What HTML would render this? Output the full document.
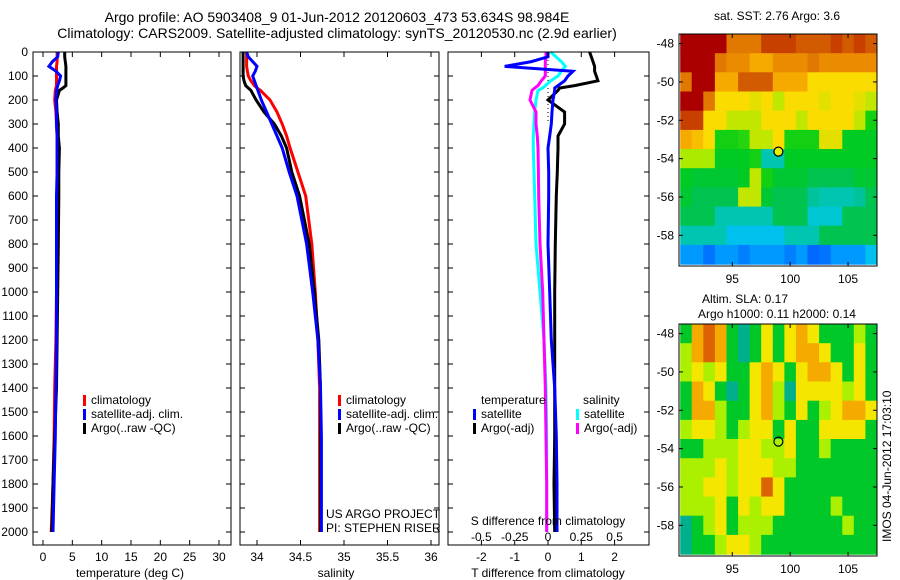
<!DOCTYPE html>
<html><head><meta charset="utf-8">
<style>
html,body{margin:0;padding:0;background:#fff;}
svg{display:block;font-family:"Liberation Sans",sans-serif;}
text{font-size:12px;fill:#000;}
text.ttl{font-size:14px;}
</style></head>
<body>
<svg id="fig" width="900" height="580" viewBox="0 0 900 580" xmlns="http://www.w3.org/2000/svg">
<text class="ttl" x="337" y="22" text-anchor="middle">Argo profile: AO 5903408_9 01-Jun-2012 20120603_473 53.634S 98.984E</text>
<text class="ttl" x="337" y="38" text-anchor="middle">Climatology: CARS2009. Satellite-adjusted climatology: synTS_20120530.nc (2.9d earlier)</text>
<g id="p1"></g>
<g id="p2"></g>
<g id="p3"></g>
<g id="m1"></g>
<g id="m2"></g>
<text transform="translate(891,542) rotate(-90)">IMOS 04-Jun-2012 17:03:10</text>
</svg>
<script>
// ---------- data ----------
const depths = [0,20,40,60,80,100,120,140,150,160,200,250,300,350,400,500,600,800,1000,1200,1400,1600,1800,2000];
const tClim = [2.4,2.4,2.4,2.3,2.3,2.3,2.3,2.3,2.2,2.1,2.0,2.2,2.3,2.4,2.4,2.4,2.4,2.4,2.3,2.2,2.0,1.9,1.7,1.4];
const tSat  = [2.6,2.5,1.6,1.0,2.2,3.0,2.8,2.5,2.4,2.3,2.2,2.3,2.3,2.4,2.4,2.4,2.3,2.3,2.3,2.3,2.2,2.1,1.9,1.7];
const tArgo = [3.7,3.7,3.8,3.9,3.9,3.9,3.9,3.9,3.4,2.8,2.3,2.4,2.6,2.6,2.8,2.7,2.7,2.6,2.5,2.4,2.3,2.0,1.7,1.5];
const sClim = [33.88,33.88,33.88,33.88,33.89,33.9,33.93,33.97,34.0,34.04,34.15,34.23,34.29,34.34,34.38,34.47,34.56,34.63,34.67,34.70,34.72,34.72,34.72,34.72];
const sSat  = [33.88,33.9,33.95,34.0,33.98,33.95,33.97,33.99,34.0,34.01,34.05,34.11,34.17,34.23,34.29,34.37,34.46,34.57,34.64,34.70,34.73,34.74,34.74,34.74];
const sArgo = [33.84,33.84,33.84,33.84,33.84,33.84,33.85,33.87,33.9,33.93,33.99,34.08,34.2,34.28,34.34,34.4,34.49,34.6,34.66,34.71,34.73,34.73,34.73,34.73];
const dTSat = [0,0,-0.5,-1.3,0.75,0.6,0.5,0.3,0.2,0.2,0.15,0.12,0.1,0.05,0.0,0.02,0.02,0.0,0.05,0.1,0.2,0.25,0.27,0.27];
const dTArgo= [1.25,1.3,1.35,1.4,1.4,1.45,1.5,0.8,0.35,0.3,0.0,0.5,0.5,0.3,0.3,0.28,0.25,0.22,0.2,0.2,0.2,0.2,0.18,0.2];
const dSSat = [0.02,0.06,0.1,0.13,0.1,0.075,0.02,-0.02,-0.04,-0.075,-0.09,-0.1,-0.105,-0.11,-0.11,-0.105,-0.1,-0.09,-0.06,-0.03,-0.015,-0.01,-0.01,-0.01];
const dSArgo= [-0.015,-0.015,-0.02,-0.02,-0.02,-0.02,-0.05,-0.075,-0.1,-0.12,-0.135,-0.09,-0.09,-0.08,-0.075,-0.072,-0.07,-0.06,-0.04,-0.03,-0.02,-0.015,-0.01,-0.01];
const depthTicks = [0,100,200,300,400,500,600,700,800,900,1000,1100,1200,1300,1400,1500,1600,1700,1800,1900,2000];
const tTicks = [0,5,10,15,20,25,30];
const sTicks = [34,34.5,35,35.5,36];
const dTTicks = [-2,-1,0,1,2];
const dSTicks = [-0.5,-0.25,0,0.25,0.5];
const lonTicks = [95,100,105];
const latTicks = [-48,-50,-52,-54,-56,-58];
const mapLons = [91,92,93,94,95,96,97,98,99,100,101,102,103,104,105,106,107];
const mapLats = [-48,-49,-50,-51,-52,-53,-54,-55,-56,-57,-58,-59];
const sstGrid = [
[7,7,7,7,6,6,6,6.5,6.5,6.5,6.3,6.3,6.3,6.5,6.3,6.5,6.3],
[7,7,7,6,5.8,5.8,5.5,5.5,5.8,5.8,5.8,6,5.8,5.8,5.8,5.8,5.8],
[6,7,7,5.5,5.5,6.3,6.3,6.3,5.5,5.5,5.5,5,5,5,5,5,5],
[7,7,6,5,5,5,4.8,5,4.5,5,5,5,4.8,5,5,4.8,4.5],
[6.5,6.5,5,5,4.5,4.5,4.5,5,5,5,4.5,5,5,5,5,4.5,3.5],
[5.5,5.3,5,3.5,3.5,3.6,4.5,4.5,5,3.5,3.5,3.5,4.8,4.8,3.3,3.3,3.3],
[4.3,4.3,4.3,3.3,3.3,3.3,3.5,2.5,2.5,3.3,3.3,3.3,3.3,3.3,3.3,3.3,3.3],
[3.3,3.2,3.2,3.2,3.2,3.3,4.5,3.5,3.2,3.2,3.2,3,3,3,3,3.2,3.2],
[3.2,3,3,3,3,4.5,4.5,3.2,3,3,3,2.6,2.5,2.5,2.5,2.6,3],
[3,3,3,2.5,2.5,2.5,2.5,2.5,3,3,3,2.3,2.3,2.3,3,3,3],
[2.5,2.5,2.5,2.5,2,2,2,2,2,2.5,2.5,2.5,3,3,3,3,3],
[1.5,1.5,1.2,1.5,1.5,1.3,1.5,1.5,1.5,1.3,1.5,1.1,1.2,1.5,1.5,1.5,2]];
const slaGrid = [
[1,4,5,4,1,0,1,3,1,3,4,3,1,1,1,2,1],
[2,4,5,4,1,0,1,3,1,3,4,4,3,1,1,3,1],
[2,3,2,3,1,1,3,4,3,1,3,4,4,3,1,3,1],
[1,4,3,1,0,1,3,4,2,0,3,3,3,3,2,3,1],
[1,4,4,2,1,1,3,4,2,1,3,1,2,3,4,4,3],
[2,3,3,2,1,2,3,3,1,3,1,1,3,3,3,3,1],
[1,1,2,2,2,3,3,2,2,3,1,1,2,1,1,1,1],
[2,2,2,3,2,3,3,3,2,2,1,1,1,1,1,1,1],
[2,2,3,3,2,3,3,5,3,1,1,1,1,1,1,1,1],
[2,2,2,3,1,3,2,3,3,1,1,1,1,2,1,1,1],
[0,1,2,3,1,2,2,2,1,1,1,1,1,1,2,1,1],
[0,1,1,2,3,3,2,1,1,1,1,1,1,1,1,1,1]];
const argoLon = 98.984, argoLat = -53.634;

// ---------- helpers ----------
const NS='http://www.w3.org/2000/svg';
function mk(tag, attrs, parent){const e=document.createElementNS(NS,tag);for(const k in attrs)e.setAttribute(k,attrs[k]);parent.appendChild(e);return e;}
function lin(d0,d1,r0,r1){return v=>r0+(v-d0)/(d1-d0)*(r1-r0);}
const Y = lin(0,2000,52,532);
const TOP=52,BOT=545;

function panelFrame(g,x0,x1){
  const r=mk('rect',{x:x0,y:TOP,width:x1-x0,height:BOT-TOP,fill:'none',stroke:'#000','stroke-width':1},g);
  
  
  depthTicks.forEach(d=>{
    mk('line',{x1:x0,x2:x0+5,y1:Y(d),y2:Y(d),stroke:'#000'},g);
    mk('line',{x1:x1,x2:x1-5,y1:Y(d),y2:Y(d),stroke:'#000'},g);
  });
}
function xTicks(g,ticks,X,labels,ly){
  ticks.forEach((t,i)=>{
    mk('line',{x1:X(t),x2:X(t),y1:TOP,y2:TOP+5,stroke:'#000'},g);
    mk('line',{x1:X(t),x2:X(t),y1:BOT,y2:BOT-5,stroke:'#000'},g);
    if(labels){const tx=mk('text',{x:X(t),y:ly,'text-anchor':'middle'},g);tx.textContent=labels[i];
      
      }
  });
}
function profile(g,xs,X,color,name,w){
  const pts=depths.map((d,i)=>X(xs[i]).toFixed(1)+','+Y(d).toFixed(1)).join(' ');
  const p=mk('polyline',{points:pts,fill:'none',stroke:color,'stroke-width':w||3,'stroke-linejoin':'miter'},g);
  
  
}
function legend(g,x,y,items){
  items.forEach((it,i)=>{
    const yy=y+i*14;
    mk('rect',{x:x,y:yy-9,width:3,height:11,fill:it[1]},g);
    const t=mk('text',{x:x+8,y:yy},g);t.textContent=it[0];
    
    
  });
}

// ---------- panel 1 temperature ----------
const p1=document.getElementById('p1');
const XT=lin(0,30,43,219);
profile(p1,tClim,XT,'#f00','temp-climatology-line');
profile(p1,tArgo,XT,'#000','temp-argo-line');
profile(p1,tSat,XT,'#00f','temp-satellite-line');
panelFrame(p1,33,231);
xTicks(p1,tTicks,XT,tTicks.map(String),561);
depthTicks.forEach(d=>{const t=mk('text',{x:28,y:Y(d)+4,'text-anchor':'end'},p1);t.textContent=d;
  
  });
(function(){const t=mk('text',{x:130,y:577,'text-anchor':'middle'},p1);t.textContent='temperature (deg C)';
  
  })();
legend(p1,83,404,[['climatology','#f00'],['satellite-adj. clim.','#00f'],['Argo(..raw -QC)','#000']]);

// ---------- panel 2 salinity ----------
const p2=document.getElementById('p2');
const XS=lin(34,36,257,431);
profile(p2,sClim,XS,'#f00','sal-climatology-line');
profile(p2,sArgo,XS,'#000','sal-argo-line');
profile(p2,sSat,XS,'#00f','sal-satellite-line');
panelFrame(p2,240,439);
xTicks(p2,sTicks,XS,sTicks.map(String),561);
(function(){const t=mk('text',{x:336,y:577,'text-anchor':'middle'},p2);t.textContent='salinity';
  
  
  const a=mk('text',{x:326,y:518},p2);a.textContent='US ARGO PROJECT';
  
  
  const b=mk('text',{x:326,y:532},p2);b.textContent='PI: STEPHEN RISER';
  
  })();
legend(p2,338,404,[['climatology','#f00'],['satellite-adj. clim.','#00f'],['Argo(..raw -QC)','#000']]);

// ---------- panel 3 differences ----------
const p3=document.getElementById('p3');
const XD=lin(0,1,548,581.3);
const XDS=lin(0,0.25,548,581.3);
mk('line',{x1:XD(0),x2:XD(0),y1:TOP,y2:Y(300),stroke:'#000','stroke-dasharray':'1,3'},p3);
profile(p3,dSSat,XDS,'#0ff','sdiff-satellite-line');
profile(p3,dSArgo,XDS,'#f0f','sdiff-argo-line');
profile(p3,dTArgo,XD,'#000','tdiff-argo-line');
profile(p3,dTSat,XD,'#00f','tdiff-satellite-line');
panelFrame(p3,448,649);
xTicks(p3,dTTicks,XD,dTTicks.map(String),561);
dSTicks.forEach(s=>{const t=mk('text',{x:XDS(s),y:541,'text-anchor':'middle'},p3);t.textContent=String(s);
  
  });
(function(){const t=mk('text',{x:548,y:577,'text-anchor':'middle'},p3);t.textContent='T difference from climatology';
  
  
  const s=mk('text',{x:548,y:525,'text-anchor':'middle'},p3);s.textContent='S difference from climatology';
  
  
  const a=mk('text',{x:481,y:404},p3);a.textContent='temperature';
  
  
  const b=mk('text',{x:583,y:404},p3);b.textContent='salinity';
  
  })();
legend(p3,473,418,[['satellite','#00f'],['Argo(-adj)','#000']]);
legend(p3,576,418,[['satellite','#0ff'],['Argo(-adj)','#f0f']]);

// ---------- maps ----------
const sstStops=[[1,[0,90,255]],[1.8,[0,190,255]],[2.4,[0,200,200]],[2.8,[0,190,110]],[3.4,[0,205,20]],[4.3,[170,235,0]],[5,[250,220,0]],[5.6,[245,160,0]],[6.3,[210,90,0]],[7,[170,0,0]]];
const slaCols=['rgb(0,175,140)','rgb(0,200,40)','rgb(170,240,0)','rgb(245,230,0)','rgb(245,170,0)','rgb(220,100,0)'];
function sstColor(v){
  if(v<=sstStops[0][0])return 'rgb('+sstStops[0][1]+')';
  for(let i=1;i<sstStops.length;i++){if(v<=sstStops[i][0]){const a=sstStops[i-1],b=sstStops[i],f=(v-a[0])/(b[0]-a[0]);
    return 'rgb('+a[1].map((c,k)=>Math.round(c+(b[1][k]-c)*f)).join(',')+')';}}
  return 'rgb('+sstStops[sstStops.length-1][1]+')';
}
function drawMap(g,y0,grid,colorFn,title,clipId){
  const x0=679,x1=877,y1=y0+232;
  const LX=lin(90.4,107.5,x0,x1), LY=lin(-47.5,-59.6,y0,y1);
  const cp=mk('clipPath',{id:clipId},g); mk('rect',{x:x0,y:y0,width:x1-x0,height:y1-y0},cp);
  const cells=mk('g',{'clip-path':'url(#'+clipId+')'},g);
  mapLats.forEach((la,r)=>mapLons.forEach((lo,c)=>{
    const xa=LX(lo-0.5),xb=LX(lo+0.5),ya=LY(la+0.5),yb=LY(la-0.5);
    const cell=mk('rect',{x:xa.toFixed(1),y:ya.toFixed(1),width:(xb-xa+0.6).toFixed(1),height:(yb-ya+0.6).toFixed(1),fill:colorFn(grid[r][c])},cells);
    
    
  }));
  const fr=mk('rect',{x:x0,y:y0,width:x1-x0,height:y1-y0,fill:'none',stroke:'#000'},g);
  
  
  lonTicks.forEach(l=>{mk('line',{x1:LX(l),x2:LX(l),y1:y0,y2:y0+4,stroke:'#000'},g);mk('line',{x1:LX(l),x2:LX(l),y1:y1,y2:y1-4,stroke:'#000'},g);
    const t=mk('text',{x:LX(l),y:y1+17,'text-anchor':'middle'},g);t.textContent=l;
    
    });
  latTicks.forEach(l=>{mk('line',{x1:x0,x2:x0+4,y1:LY(l),y2:LY(l),stroke:'#000'},g);mk('line',{x1:x1,x2:x1-4,y1:LY(l),y2:LY(l),stroke:'#000'},g);
    const t=mk('text',{x:674,y:LY(l)+4,'text-anchor':'end'},g);t.textContent=l;
    
    });
  const dot=mk('circle',{cx:LX(argoLon),cy:LY(argoLat),r:4.5,fill:title?'#e8f000':'none',stroke:'#000','stroke-width':1.2},g);
  
  
}
const m1=document.getElementById('m1');
drawMap(m1,34,sstGrid,sstColor,true,'c1');
(function(){const t=mk('text',{x:777,y:20,'text-anchor':'middle'},m1);t.textContent='sat. SST: 2.76 Argo: 3.6';
  
  })();
const m2=document.getElementById('m2');
drawMap(m2,324,slaGrid,v=>slaCols[v],false,'c2');
(function(){const t=mk('text',{x:745,y:303,'text-anchor':'middle'},m2);t.textContent='Altim. SLA: 0.17';
  
  
  const u=mk('text',{x:777,y:318,'text-anchor':'middle'},m2);u.textContent='Argo h1000: 0.11 h2000: 0.14';
  
  })();
</script>
</body></html>
